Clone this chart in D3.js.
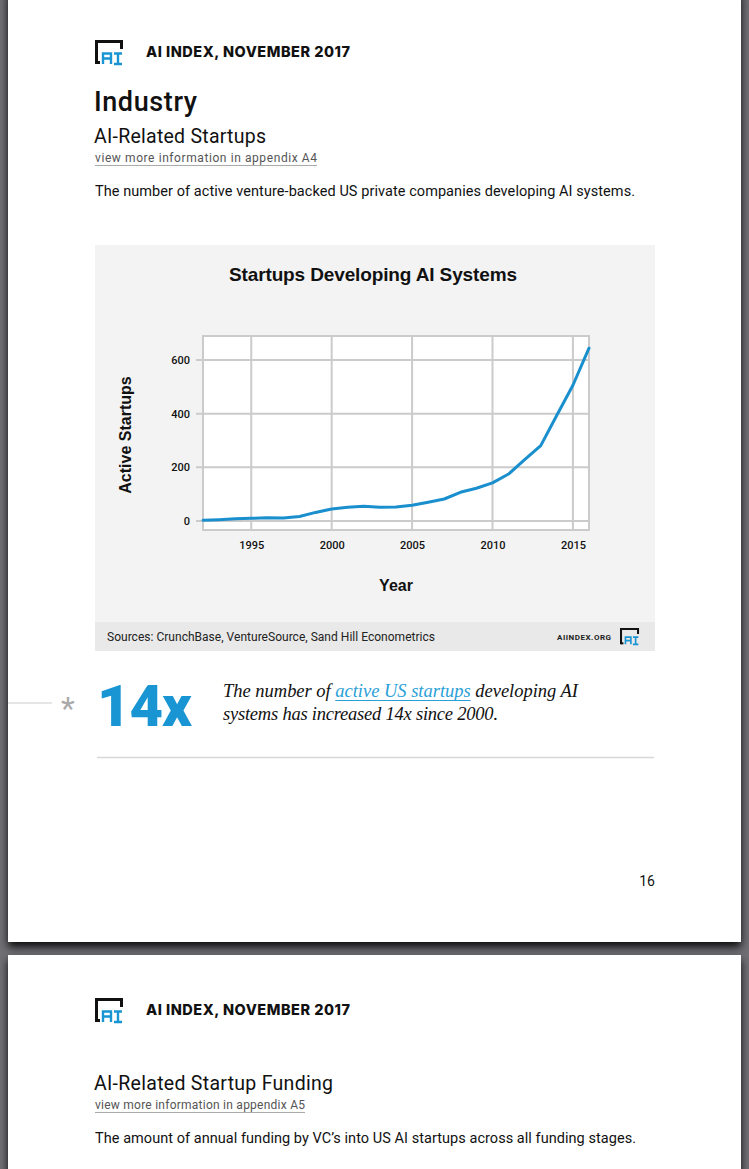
<!DOCTYPE html>
<html>
<head>
<meta charset="utf-8">
<script src="https://cdn.jsdelivr.net/npm/d3@7"></script>
<style>
  html, body { margin: 0; padding: 0; background: #6f6f74; }
  svg { display: block; }
</style>
</head>
<body>
<div id="page"></div>
<script>
// Chart data
const years = [1992, 1993, 1994, 1995, 1996, 1997, 1998, 1999, 2000, 2001, 2002, 2003,
  2004, 2005, 2006, 2007, 2008, 2009, 2010, 2011, 2012, 2013, 2014, 2015, 2016];
const startups = [3, 5, 8, 10, 12, 11, 17, 32, 45, 51, 55, 51,
  52, 59, 70, 82, 107, 122, 142, 175, 229, 281, 394, 506, 644];
const xTicks = [1995, 2000, 2005, 2010, 2015];
const yTicks = [0, 200, 400, 600];

const W = 749, H = 1169;
const sans = "Roboto, 'Noto Sans', sans-serif";
const serif = "'Liberation Serif', 'DejaVu Serif', serif";
const blue = "#1a95d3";

const svg = d3.select("#page").append("svg")
  .attr("width", W).attr("height", H);

// stretch a text to the width it has in the page
function fit(t, w) {
  t.attr("textLength", w).attr("lengthAdjust", "spacing");
  return t;
}

// page shadow
const defs = svg.append("defs");
const f = defs.append("filter").attr("id", "shadow")
  .attr("x", "-10%").attr("y", "-10%").attr("width", "120%").attr("height", "120%");
f.append("feDropShadow").attr("dx", 0).attr("dy", 5).attr("stdDeviation", 4)
  .attr("flood-color", "#000").attr("flood-opacity", 0.9);

svg.append("rect").attr("width", W).attr("height", H).attr("fill", "#6f6f74");
svg.append("rect").attr("x", 8).attr("y", -10).attr("width", 733).attr("height", 952)
  .attr("fill", "#fff").attr("filter", "url(#shadow)");
svg.append("rect").attr("x", 8).attr("y", 955).attr("width", 733).attr("height", 230)
  .attr("fill", "#fff").attr("filter", "url(#shadow)");

// AI Index logo
function logo(g, x, y, s) {
  const l = g.append("g").attr("transform", `translate(${x},${y}) scale(${s})`);
  l.append("path").attr("d", "M1.5,24 V1.5 H26.5 V9")
    .attr("fill", "none").attr("stroke", "#111").attr("stroke-width", 3);
  l.append("path").attr("d", "M1.5,22.5 H5")
    .attr("fill", "none").attr("stroke", "#111").attr("stroke-width", 3);
  // "A"
  l.append("path").attr("d", "M8,24 V13.5 H16 V24 M8,18.5 H16")
    .attr("fill", "none").attr("stroke", blue).attr("stroke-width", 2.4);
  // "I"
  l.append("path").attr("d", "M19,13.5 H27 M23,13.5 V24 M19,24 H27")
    .attr("fill", "none").attr("stroke", blue).attr("stroke-width", 2.4);
}

function header(y0) {
  logo(svg, 95, y0, 1);
  fit(svg.append("text").attr("x", 146).attr("y", y0 + 17)
    .style("font-family", "Inter, " + sans).style("font-weight", 800)
    .style("font-size", "14.5px")
    .attr("fill", "#111").text("AI INDEX, NOVEMBER 2017"), 204);
}

function subHead(y, title, titleW, appendix, appW, desc, descW) {
  fit(svg.append("text").attr("x", 94).attr("y", y)
    .style("font-family", sans).style("font-size", "19.5px").attr("fill", "#111").text(title), titleW);
  fit(svg.append("text").attr("x", 95).attr("y", y + 19)
    .style("font-family", sans).style("font-size", "12px").attr("fill", "#555").text(appendix), appW);
  svg.append("line").attr("x1", 95).attr("x2", 95 + appW).attr("y1", y + 22.5).attr("y2", y + 22.5)
    .attr("stroke", "#aaa").attr("stroke-width", 1);
  fit(svg.append("text").attr("x", 95).attr("y", y + 53)
    .style("font-family", sans).style("font-size", "14.5px").attr("fill", "#111").text(desc), descW);
}

// page 1 header
header(40);
fit(svg.append("text").attr("x", 94).attr("y", 111)
  .style("font-family", sans).style("font-size", "27px").style("font-weight", 500)
  .attr("fill", "#111").text("Industry"), 103);
subHead(143, "AI-Related Startups", 172, "view more information in appendix A4", 222,
  "The number of active venture-backed US private companies developing AI systems.", 540);

// chart panel
svg.append("rect").attr("x", 95).attr("y", 245).attr("width", 560).attr("height", 406).attr("fill", "#f3f3f3");
svg.append("rect").attr("x", 95).attr("y", 622).attr("width", 560).attr("height", 29).attr("fill", "#e9e9e9");

fit(svg.append("text").attr("x", 229).attr("y", 281)
  .style("font-family", "'Liberation Sans', Arial, sans-serif").style("font-weight", "bold")
  .style("font-size", "19px").attr("fill", "#111").text("Startups Developing AI Systems"), 288);

const plot = { left: 203, right: 589, top: 336, bottom: 530 };
const x = d3.scaleLinear().domain([1992, 2016]).range([plot.left, plot.right]);
const y = d3.scaleLinear().domain([0, 600]).range([521, 360]);

svg.append("rect").attr("x", plot.left).attr("y", plot.top)
  .attr("width", plot.right - plot.left).attr("height", plot.bottom - plot.top).attr("fill", "#fff");

const grid = svg.append("g").attr("stroke", "#cbcbcb").attr("stroke-width", 2);
grid.selectAll(".gx").data(xTicks).enter().append("line")
  .attr("x1", d => x(d)).attr("x2", d => x(d)).attr("y1", plot.top).attr("y2", plot.bottom);
grid.selectAll(".gy").data(yTicks).enter().append("line")
  .attr("x1", plot.left - 7).attr("x2", plot.right).attr("y1", d => y(d)).attr("y2", d => y(d));
svg.append("rect").attr("x", plot.left).attr("y", plot.top)
  .attr("width", plot.right - plot.left).attr("height", plot.bottom - plot.top)
  .attr("fill", "none").attr("stroke", "#cbcbcb").attr("stroke-width", 2);

// axes labels through d3 axes
const xAxis = svg.append("g").attr("transform", `translate(0,${plot.bottom})`)
  .call(d3.axisBottom(x).tickValues(xTicks).tickFormat(d3.format("d")).tickSize(0).tickPadding(11));
const yAxis = svg.append("g").attr("transform", `translate(${plot.left - 8},0)`)
  .call(d3.axisLeft(y).tickValues(yTicks).tickSize(0).tickPadding(5));
[xAxis, yAxis].forEach(a => {
  a.select(".domain").remove();
  a.selectAll("text").style("font-family", sans).style("font-weight", 500)
    .style("font-size", "11px").attr("fill", "#111");
});

const line = d3.line().x((d, i) => x(years[i])).y(d => y(d));
svg.append("path").datum(startups).attr("d", line)
  .attr("fill", "none").attr("stroke", "#1a8fce").attr("stroke-width", 3)
  .attr("stroke-linejoin", "round").attr("stroke-linecap", "round");

svg.append("text").attr("transform", "translate(131,435) rotate(-90)").attr("text-anchor", "middle")
  .style("font-family", "'Liberation Sans', Arial, sans-serif").style("font-weight", "bold")
  .style("font-size", "16px").attr("fill", "#111").text("Active Startups");
svg.append("text").attr("x", 396).attr("y", 591).attr("text-anchor", "middle")
  .style("font-family", "'Liberation Sans', Arial, sans-serif").style("font-weight", "bold")
  .style("font-size", "16px").attr("fill", "#111").text("Year");

fit(svg.append("text").attr("x", 107).attr("y", 641)
  .style("font-family", sans).style("font-size", "12px").attr("fill", "#222")
  .text("Sources: CrunchBase, VentureSource, Sand Hill Econometrics"), 328);
fit(svg.append("text").attr("x", 557).attr("y", 640)
  .style("font-family", sans).style("font-weight", "bold").style("font-size", "8px")
  .attr("fill", "#222").text("AIINDEX.ORG"), 54);
logo(svg, 620, 628, 0.68);

// callout
svg.append("line").attr("x1", 8).attr("x2", 52).attr("y1", 703).attr("y2", 703)
  .attr("stroke", "#ccc").attr("stroke-width", 1);
svg.append("text").attr("x", 68).attr("y", 719).attr("text-anchor", "middle")
  .style("font-family", sans).style("font-size", "32px").attr("fill", "#aaa").text("*");
fit(svg.append("text").attr("x", 97).attr("y", 726)
  .style("font-family", "Roboto, sans-serif").style("font-weight", 900)
  .style("font-size", "58px").attr("fill", blue).text("14x"), 95);

const t1 = fit(svg.append("text").attr("x", 223).attr("y", 697)
  .style("font-family", serif).style("font-style", "italic").style("font-size", "18.5px").attr("fill", "#111"), 355);
t1.append("tspan").text("The number of ");
const link = t1.append("tspan").attr("fill", "#2a9fd8").text("active US startups");
t1.append("tspan").text(" developing AI");
fit(svg.append("text").attr("x", 223).attr("y", 720)
  .style("font-family", serif).style("font-style", "italic").style("font-size", "18.5px").attr("fill", "#111")
  .text("systems has increased 14x since 2000."), 275);
// underline for the link
const ln = link.node();
const lx0 = ln.getStartPositionOfChar(0).x;
const lx1 = ln.getEndPositionOfChar(ln.getNumberOfChars() - 1).x;
svg.append("line").attr("x1", lx0).attr("x2", lx1).attr("y1", 700.5).attr("y2", 700.5)
  .attr("stroke", "#2a9fd8").attr("stroke-width", 1);

svg.append("line").attr("x1", 97).attr("x2", 654).attr("y1", 757.5).attr("y2", 757.5)
  .attr("stroke", "#d8d8d8").attr("stroke-width", 1.5);

svg.append("text").attr("x", 655).attr("y", 886).attr("text-anchor", "end")
  .style("font-family", sans).style("font-size", "14px").attr("fill", "#111").text("16");

// page 2
header(998);
subHead(1090, "AI-Related Startup Funding", 239, "view more information in appendix A5", 210,
  "The amount of annual funding by VC\u2019s into US AI startups across all funding stages.", 541);
</script>
</body>
</html>
